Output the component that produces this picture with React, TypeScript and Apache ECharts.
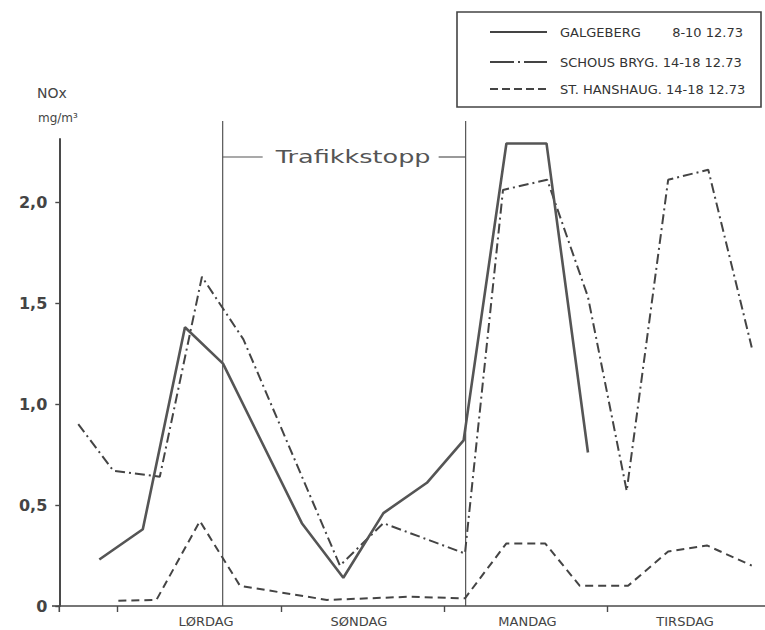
import React, { useEffect, useRef } from "react";
import * as echarts from "echarts";

// ---- data (x = hours from start of LØRDAG, y = NOx mg/m3) ----
const GAL_HOURS = [-2.7, 3.7, 9.9, 15.5, 27.1, 33.2, 39.1, 45.5, 50.9, 57.2, 63.1, 69.2];
const GAL_VALUES = [0.23, 0.38, 1.38, 1.2, 0.41, 0.14, 0.46, 0.61, 0.82, 2.29, 2.29, 0.76];

const SCH_HOURS = [-5.8, -0.65, 6.2, 12.4, 18.5, 32.7, 39.1, 51.1, 56.7, 63.2, 69.2, 74.9, 81.0, 86.9, 93.3];
const SCH_VALUES = [0.9, 0.67, 0.64, 1.63, 1.32, 0.2, 0.41, 0.26, 2.06, 2.11, 1.53, 0.57, 2.11, 2.16, 1.28];

const STH_HOURS = [0.1, 5.7, 12.1, 18.0, 30.8, 43.0, 51.1, 57.2, 62.9, 68.0, 75.1, 81.0, 86.7, 93.3];
const STH_VALUES = [0.026, 0.03, 0.42, 0.1, 0.03, 0.046, 0.038, 0.31, 0.31, 0.1, 0.1, 0.27, 0.3, 0.2];

const SERIES_NAMES = ["GALGEBERG", "SCHOUS BRYG.", "ST. HANSHAUG."];
const SERIES_DATES = ["8-10 12.73", "14-18 12.73", "14-18 12.73"];

const DAY_TICKS = [0, 24, 48, 72];
const DAY_LABELS = ["LØRDAG", "SØNDAG", "MANDAG", "TIRSDAG"];
const DAY_LABEL_POS = [13, 35.5, 60.3, 83.5];

const Y_TICKS = [0, 0.5, 1, 1.5, 2];

const STOP_START = 15.45;
const STOP_END = 51.2;

const X_MIN = -8.59;
const X_MAX = 95.25;
const Y_MAX = 2.312;

const zip = (xs: number[], ys: number[]) => xs.map((x, i) => [x, ys[i]]);

const INK = "#4a4a4a";
const FONT = "DejaVu Sans";

export default function App() {
  const ref = useRef<HTMLDivElement>(null);

  useEffect(() => {
    if (!ref.current) return;
    const chart = echarts.init(ref.current, undefined, { renderer: "svg" });

    const option: any = {
      animation: false,
      backgroundColor: "#ffffff",
      grid: { left: 59.3, right: 0, top: 139, bottom: 24, containLabel: false },
      xAxis: {
        type: "value",
        min: X_MIN,
        max: X_MAX,
        splitLine: { show: false },
        axisLine: { show: true, onZero: false, lineStyle: { color: INK, width: 1.6 } },
        axisTick: {
          show: true,
          customValues: DAY_TICKS,
          length: 6,
          lineStyle: { color: INK, width: 1.4 },
        },
        axisLabel: {
          customValues: DAY_LABEL_POS,
          formatter: (v: number) => {
            let best = 0;
            DAY_LABEL_POS.forEach((p, i) => {
              if (Math.abs(p - v) < Math.abs(DAY_LABEL_POS[best] - v)) best = i;
            });
            return DAY_LABELS[best];
          },
          margin: 9,
          fontFamily: FONT,
          fontSize: 13,
          color: "#444",
        },
      },
      yAxis: {
        type: "value",
        min: 0,
        max: Y_MAX,
        splitLine: { show: false },
        axisLine: { show: true, onZero: false, lineStyle: { color: INK, width: 2 } },
        axisTick: {
          show: true,
          customValues: Y_TICKS,
          length: 4,
          lineStyle: { color: INK, width: 1.4 },
        },
        axisLabel: {
          customValues: Y_TICKS,
          formatter: (v: number) => (v === 0 ? "0" : v.toFixed(1).replace(".", ",")),
          margin: 12,
          fontFamily: FONT,
          fontWeight: "bold",
          fontSize: 16,
          color: "#444",
        },
      },
      series: [
        {
          name: SERIES_NAMES[0],
          type: "line",
          symbol: "none",
          data: zip(GAL_HOURS, GAL_VALUES),
          lineStyle: { color: "#555", width: 2.6, type: "solid" },
          z: 3,
        },
        {
          name: SERIES_NAMES[1],
          type: "line",
          symbol: "none",
          data: zip(SCH_HOURS, SCH_VALUES),
          lineStyle: { color: "#444", width: 2, type: [10, 4, 2, 4] },
          z: 2,
        },
        {
          name: SERIES_NAMES[2],
          type: "line",
          symbol: "none",
          data: zip(STH_HOURS, STH_VALUES),
          lineStyle: { color: "#444", width: 2, type: [8, 5] },
          z: 2,
        },
      ],
    };
    chart.setOption(option);

    const px = (h: number, v: number) => chart.convertToPixel({ gridIndex: 0 }, [h, v]) as number[];
    const [xs1, y0] = px(STOP_START, 0);
    const [xs2] = px(STOP_END, 0);
    const topY = 121;
    const brY = 157;
    const cx = (xs1 + xs2) / 2 + 9;
    const legX = 490;
    const legRows = [32, 62, 89];
    const legDash: any[] = [null, [24, 4, 2, 4], [8, 4]];
    const legW = [2.2, 2, 2];

    const graphic: any[] = [
      // origin cross extensions
      { type: "line", shape: { x1: 52, y1: y0, x2: 59.3, y2: y0 }, style: { stroke: INK, lineWidth: 1.6 } },
      { type: "line", shape: { x1: 59.3, y1: y0, x2: 59.3, y2: y0 + 6 }, style: { stroke: INK, lineWidth: 1.6 } },
      // traffic stop lines
      { type: "line", shape: { x1: xs1, y1: topY, x2: xs1, y2: y0 }, style: { stroke: "#555", lineWidth: 1.2 } },
      { type: "line", shape: { x1: xs2, y1: topY, x2: xs2, y2: y0 }, style: { stroke: "#555", lineWidth: 1.2 } },
      { type: "line", shape: { x1: xs1, y1: brY, x2: xs1 + 40, y2: brY }, style: { stroke: "#555", lineWidth: 1.2 } },
      { type: "line", shape: { x1: xs2 - 27, y1: brY, x2: xs2, y2: brY }, style: { stroke: "#555", lineWidth: 1.2 } },
      {
        type: "text",
        x: cx,
        y: brY,
        scaleX: 1.5,
        style: {
          text: "Trafikkstopp",
          x: 0,
          y: 0,
          textAlign: "center",
          textVerticalAlign: "middle",
          fontFamily: FONT,
          fontSize: 17,
          fill: "#555",
        },
      },
      // y axis title
      {
        type: "text",
        x: 37,
        y: 93,
        style: { text: "NOx", textVerticalAlign: "middle", fontFamily: FONT, fontSize: 14, fill: "#444" },
      },
      {
        type: "text",
        x: 38,
        y: 118,
        style: { text: "mg/m³", textVerticalAlign: "middle", fontFamily: FONT, fontSize: 12, fill: "#444" },
      },
      // legend box
      {
        type: "rect",
        shape: { x: 457, y: 12, width: 304, height: 95 },
        style: { fill: "none", stroke: "#444", lineWidth: 1.6 },
      },
    ];
    legRows.forEach((ry, i) => {
      graphic.push({
        type: "line",
        shape: { x1: legX, y1: ry, x2: legX + 57, y2: ry },
        style: { stroke: "#444", lineWidth: legW[i], lineDash: legDash[i] || undefined },
      });
      if (i === 0) {
        graphic.push({
          type: "text",
          x: 560,
          y: ry,
          style: { text: SERIES_NAMES[i], textVerticalAlign: "middle", fontFamily: FONT, fontSize: 13, fill: "#333" },
        });
        graphic.push({
          type: "text",
          x: 743,
          y: ry,
          style: {
            text: SERIES_DATES[i],
            textAlign: "right",
            textVerticalAlign: "middle",
            fontFamily: FONT,
            fontSize: 13,
            fill: "#333",
          },
        });
      } else {
        graphic.push({
          type: "text",
          x: 560,
          y: ry,
          style: {
            text: SERIES_NAMES[i] + " " + SERIES_DATES[i],
            textVerticalAlign: "middle",
            fontFamily: FONT,
            fontSize: 13,
            fill: "#333",
          },
        });
      }
    });

    chart.setOption({ graphic });

    return () => chart.dispose();
  }, []);

  return (
    <div
      ref={ref}
      style={{ position: "absolute", left: 0, top: 0, width: 765, height: 630, background: "#fff" }}
    />
  );
}
